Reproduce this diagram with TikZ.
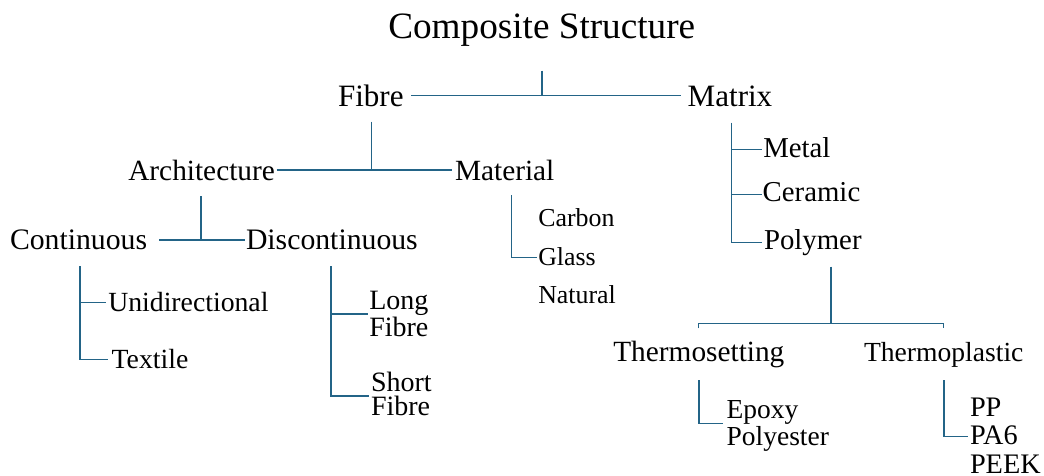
\documentclass[tikz,border=0pt]{standalone}
\usepackage{fontspec}
\setmainfont{Liberation Serif}
\definecolor{ln}{RGB}{35,100,135}
\tikzset{
  lbl/.style={anchor=base west,inner sep=0pt,outer sep=0pt},
  conn/.style={draw=ln,line width=1.1pt},
  fs/.style={font=\fontsize{#1}{#1}\selectfont},
  fsl/.style 2 args={font=\fontsize{#1}{#2}\selectfont,align=left}
}
\begin{document}
\begin{tikzpicture}[x=0.75pt,y=-0.75pt]
\useasboundingbox (0,0) rectangle (1044,475);
% labels (multi-line nodes are placed by the baseline of their last line)
\node[lbl,fs=27.9] (title) at (388.3,38.3) {Composite Structure};
\node[lbl,fs=23.3] (fibre) at (338,106) {Fibre};
\node[lbl,fs=23.3] (matrix) at (687.7,106) {Matrix};
\node[lbl,fs=22] (arch) at (128.3,180) {Architecture};
\node[lbl,fs=22] (material) at (455,180) {Material};
\node[lbl,fs=22.3] (cont) at (10,249.3) {Continuous};
\node[lbl,fs=22.3] (discont) at (246,249.3) {Discontinuous};
\node[lbl,fs=20.8] (unidir) at (108.3,311.7) {Unidirectional};
\node[lbl,fs=20.8] (textile) at (111.7,368.3) {Textile};
\node[lbl,fsl={21}{18.2}] (long) at (369.3,336) {Long\\Fibre};
\node[lbl,fsl={21}{18.0}] (short) at (371,415) {Short\\Fibre};
\node[lbl,fs=19.4] (carbon) at (538.3,226) {Carbon};
\node[lbl,fs=19.4] (glass) at (538.3,265) {Glass};
\node[lbl,fs=19.4] (natural) at (538.3,303.3) {Natural};
\node[lbl,fs=21.6] (metal) at (763.3,157.3) {Metal};
\node[lbl,fs=21.6] (ceramic) at (762.7,201.7) {Ceramic};
\node[lbl,fs=21.6] (polymer) at (764,249.3) {Polymer};
\node[lbl,fs=22] (thset) at (613.3,361.7) {Thermosetting};
\node[lbl,fs=20.7] (thpl) at (864,361.7) {Thermoplastic};
\node[lbl,fsl={20.6}{20}] (epoxy) at (726.7,445) {Epoxy\\Polyester};
\node[lbl,fsl={21.2}{21.2}] (pp) at (970,473) {PP\\PA6\\PEEK};
% connector points
\coordinate (c0t) at (542,70.7);
\coordinate (c0m) at (542,95.7);
\coordinate (c0l) at (411,95.7);
\coordinate (c0r) at (681,95.7);
\coordinate (c1t) at (371.7,121.7);
\coordinate (c1m) at (371.7,170);
\coordinate (c1l) at (276.7,170);
\coordinate (c1r) at (451.7,170);
\coordinate (c2t) at (201,196);
\coordinate (c2m) at (201,240);
\coordinate (c2l) at (159.3,240);
\coordinate (c2r) at (245,240);
\coordinate (c3t) at (80,266);
\coordinate (c3a) at (106,302.3);
\coordinate (c3b) at (108,359.3);
\coordinate (c4t) at (331,266);
\coordinate (c4a) at (367.7,314);
\coordinate (c4b) at (369.3,396);
\coordinate (c5t) at (511.7,195);
\coordinate (c5b) at (536.7,257.7);
\coordinate (c6t) at (731.7,122.7);
\coordinate (c6a) at (761.7,149.3);
\coordinate (c6b) at (761.7,194.3);
\coordinate (c6c) at (761.7,242.7);
\coordinate (c7t) at (831,266.7);
\coordinate (c7m) at (831,323.3);
\coordinate (c7l) at (698.3,328.3);
\coordinate (c7r) at (943.3,328.3);
\coordinate (c8t) at (699,380);
\coordinate (c8b) at (723.3,423.3);
\coordinate (c9t) at (944,380);
\coordinate (c9b) at (968.3,436.7);
% connectors
\draw[conn] (c0t) -- (c0m);
\draw[conn] (c0l) -- (c0r);
\draw[conn] (c1t) -- (c1m);
\draw[conn] (c1l) -- (c1r);
\draw[conn] (c2t) -- (c2m);
\draw[conn] (c2l) -- (c2r);
\draw[conn] (c3t) |- (c3b);
\draw[conn] (c3t |- c3a) -- (c3a);
\draw[conn] (c4t) |- (c4b);
\draw[conn] (c4t |- c4a) -- (c4a);
\draw[conn] (c5t) |- (c5b);
\draw[conn] (c6t) |- (c6c);
\draw[conn] (c6t |- c6a) -- (c6a);
\draw[conn] (c6t |- c6b) -- (c6b);
\draw[conn] (c7t) -- (c7m);
\draw[conn] (c7l) |- (c7m) -| (c7r);
\draw[conn] (c8t) |- (c8b);
\draw[conn] (c9t) |- (c9b);
\end{tikzpicture}
\end{document}
